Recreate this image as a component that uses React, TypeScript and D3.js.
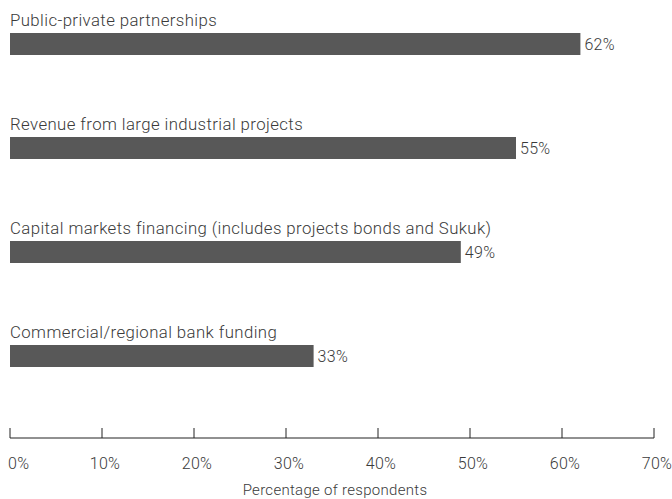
import React from "react";
import * as d3 from "d3";

const categories = [
  "Public-private partnerships",
  "Revenue from large industrial projects",
  "Capital markets financing (includes projects bonds and Sukuk)",
  "Commercial/regional bank funding",
];
const values = [62, 55, 49, 33];
const tickValues = [0, 10, 20, 30, 40, 50, 60, 70];

export default function App() {
  const W = 672, H = 499;
  const x = d3.scaleLinear().domain([0, 70]).range([10, 654]);
  const y = d3.scaleBand<string>().domain(categories).range([33, 449]).paddingInner(0).paddingOuter(0);
  const barH = 22;
  const font = "Roboto, 'DejaVu Sans', sans-serif";
  const axisY = 438;
  const txt = "#3a3a3a";
  return (
    <svg width={W} height={H} style={{ position: "absolute", left: 0, top: 0 }} fontFamily={font}>
      {categories.map((c, i) => {
        const y0 = (y(c) as number);
        return (
          <g key={c}>
            <text x={10} y={y0 - 7} fontSize={16.8} letterSpacing={0.4} fill={txt} fontWeight={300}>{c}</text>
            <rect x={x(0)} y={y0} width={x(values[i]) - x(0)} height={barH} fill="#585858" />
            <text x={x(values[i]) + 4} y={y0 + barH / 2 + 6} fontSize={16} letterSpacing={0.3} fill={txt} fontWeight={300}>{values[i]}%</text>
          </g>
        );
      })}
      <line x1={x(0)} x2={x(70)} y1={axisY} y2={axisY} stroke="#222" strokeWidth={1} />
      {tickValues.map((t) => (
        <g key={t}>
          <line x1={x(t)} x2={x(t)} y1={axisY} y2={axisY - 10} stroke="#222" strokeWidth={1} />
          <text x={t === 0 ? x(t) - 2 : x(t) + 3} y={469} fontSize={16} letterSpacing={0.3} fill={txt} fontWeight={300}
            textAnchor={t === 0 ? "start" : "middle"}>{t}%</text>
        </g>
      ))}
      <text x={335} y={495} fontSize={15} letterSpacing={0.3} fill={txt} fontWeight={300} textAnchor="middle">Percentage of respondents</text>
    </svg>
  );
}
